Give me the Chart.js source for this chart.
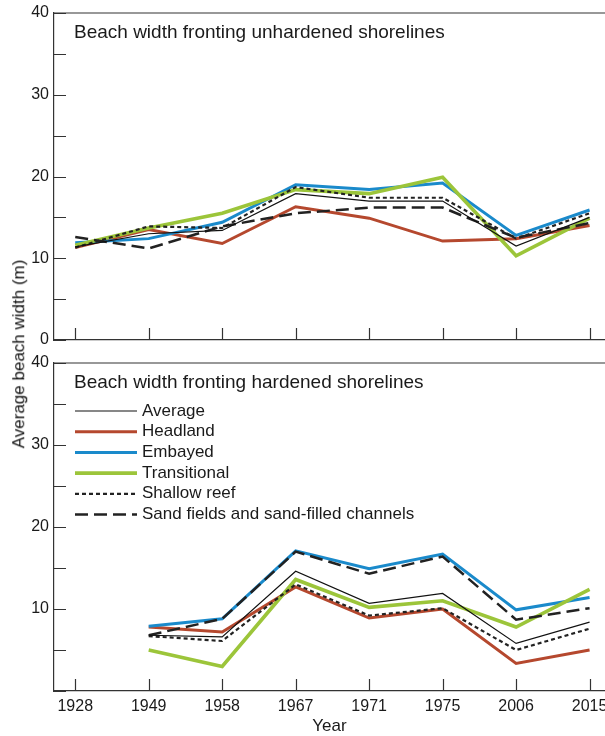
<!DOCTYPE html>
<html>
<head>
<meta charset="utf-8">
<script src="https://cdn.jsdelivr.net/npm/chart.js@4.4.1/dist/chart.umd.min.js"></script>
<style>
  html, body { margin: 0; padding: 0; background: #fff; overflow: hidden; }
  #wrap { position: relative; width: 605px; height: 736px; font-family: "Liberation Sans", Arial, sans-serif; }
  #top { position: absolute; left: 0; top: 0; width: 605px; height: 350px; }
  #bottom { position: absolute; left: 0; top: 350px; width: 605px; height: 386px; }
  #ylabel { position: absolute; left: 19px; top: 354px; transform: translate(-50%, -50%) rotate(-90deg);
            white-space: nowrap; font-size: 17px; line-height: 1.15; color: #111; }
</style>
</head>
<body>
<div id="wrap">
  <div id="top"><canvas id="unhardened"></canvas></div>
  <div id="bottom"><canvas id="hardened"></canvas></div>
  <div id="ylabel">Average beach width (m)</div>
</div>
<script>
const years = ['1928', '1949', '1958', '1967', '1971', '1975', '2006', '2015'];
const seriesNames = ['Average', 'Headland', 'Embayed', 'Transitional', 'Shallow reef', 'Sand fields and sand-filled channels'];
const yTickValues = [0, 10, 20, 30, 40];
const yMinorValues = [0, 5, 10, 15, 20, 25, 30, 35, 40];

// unhardened shorelines (top panel)
const avgU = [11.4, 13.0, 13.4, 17.9, 17.0, 17.0, 11.5, 15.0];
const headlandU = [11.3, 13.5, 11.8, 16.3, 14.9, 12.1, 12.4, 14.0];
const embayedU = [11.9, 12.4, 14.4, 19.0, 18.4, 19.2, 12.8, 15.9];
const transitionalU = [11.6, 13.7, 15.5, 18.4, 17.9, 19.9, 10.3, 14.9];
const reefU = [11.3, 13.9, 13.7, 18.7, 17.4, 17.4, 12.4, 15.5];
const sandU = [12.6, 11.2, 13.9, 15.5, 16.2, 16.2, 12.5, 14.3];

// hardened shorelines (bottom panel), no data for 1928
const avgH = [null, 6.8, 6.6, 14.6, 10.7, 11.9, 5.8, 8.4];
const headlandH = [null, 7.8, 7.2, 12.7, 8.9, 10.0, 3.35, 5.0];
const embayedH = [null, 7.9, 8.8, 17.1, 14.9, 16.7, 9.9, 11.4];
const transitionalH = [null, 5.0, 3.0, 13.6, 10.2, 11.0, 7.8, 12.4];
const reefH = [null, 6.7, 6.1, 13.0, 9.2, 10.1, 5.0, 7.6];
const sandH = [null, 6.8, 8.8, 17.0, 14.3, 16.4, 8.7, 10.1];

const axisColor = '#333';
const textColor = '#1a1a1a';
const FONT = '"Liberation Sans", Arial, sans-serif';
Chart.defaults.font.family = FONT;

// style per series, same order as seriesNames
const styles = [
  { color: '#111', width: 1.2, dash: [], order: 0 },
  { color: '#b5482e', width: 3, dash: [], order: 5 },
  { color: '#1a8acb', width: 3, dash: [], order: 4 },
  { color: '#9cc53a', width: 3.6, dash: [], order: 3 },
  { color: '#222', width: 2.2, dash: [4, 3], order: 1 },
  { color: '#222', width: 2.5, dash: [13, 6], order: 2 }
];

function makeSets(lists) {
  return lists.map((vals, k) => ({
    label: seriesNames[k],
    data: vals.map((v, i) => ({ x: i, y: v })),
    borderColor: styles[k].color,
    borderWidth: styles[k].width,
    borderDash: styles[k].dash,
    borderCapStyle: 'butt',
    borderJoinStyle: 'miter',
    order: styles[k].order,
    pointRadius: 0,
    fill: false,
    tension: 0
  }));
}

function decor(title, withLegend) {
  return {
    id: 'decor',
    beforeDatasetsDraw(chart) {
      const { ctx, chartArea: a, scales: { x, y } } = chart;
      ctx.save();
      ctx.strokeStyle = axisColor;
      ctx.lineWidth = 1.2;
      ctx.beginPath();
      ctx.moveTo(a.left, a.top);
      ctx.lineTo(chart.width, a.top);
      yMinorValues.forEach(v => {
        const py = Math.round(y.getPixelForValue(v)) + 0.5;
        ctx.moveTo(a.left, py);
        ctx.lineTo(a.left + 12, py);
      });
      years.forEach((_, i) => {
        const px = Math.round(x.getPixelForValue(i)) + 0.5;
        ctx.moveTo(px, a.bottom);
        ctx.lineTo(px, a.bottom - 12);
      });
      ctx.stroke();
      ctx.restore();
    },
    afterDraw(chart) {
      const { ctx, chartArea: a } = chart;
      ctx.save();
      ctx.fillStyle = textColor;
      ctx.textBaseline = 'middle';
      ctx.font = '19px ' + FONT;
      ctx.fillText(title, a.left + 20, a.top + 20);
      if (withLegend) {
        ctx.font = '17px ' + FONT;
        chart.data.datasets.forEach((ds, k) => {
          const ly = a.top + 48 + k * 20.7;
          ctx.strokeStyle = ds.borderColor;
          ctx.lineWidth = ds.borderWidth;
          ctx.setLineDash(ds.borderDash);
          ctx.beginPath();
          ctx.moveTo(a.left + 21, ly);
          ctx.lineTo(a.left + 83, ly);
          ctx.stroke();
          ctx.fillText(ds.label, a.left + 88, ly);
        });
      }
      ctx.restore();
    }
  };
}

function makeOptions(showX, hideZero) {
  return {
    responsive: true,
    maintainAspectRatio: false,
    animation: false,
    layout: { padding: { top: 13, left: 0, right: 0, bottom: 0 }, autoPadding: false },
    plugins: { legend: { display: false }, tooltip: { enabled: false } },
    scales: {
      x: {
        type: 'linear',
        min: -0.289,
        max: 7.21,
        afterBuildTicks: s => { s.ticks = years.map((_, i) => ({ value: i })); },
        afterFit: s => {
          s.height = showX ? 45 : 10;
          s.paddingLeft = 0;
          s.paddingRight = 0;
        },
        grid: { display: false, drawTicks: false },
        border: { display: true, color: axisColor, width: 1.2 },
        ticks: {
          display: showX, padding: 6, color: textColor, font: { size: 16 },
          maxRotation: 0, autoSkip: false,
          callback: v => years[v]
        },
        title: { display: showX, text: 'Year', color: textColor, font: { size: 17 }, padding: { top: 0, bottom: -1 } }
      },
      y: {
        min: 0,
        max: 40,
        afterBuildTicks: s => { s.ticks = yTickValues.map(v => ({ value: v })); },
        afterFit: s => {
          s.width = 54;
          s.paddingTop = 0;
          s.paddingBottom = 0;
        },
        grid: { display: false, drawTicks: false },
        border: { display: true, color: axisColor, width: 1.2 },
        ticks: {
          padding: 5, color: textColor, font: { size: 16 },
          callback: v => (hideZero && v === 0) ? '' : String(v)
        }
      }
    }
  };
}

new Chart(document.getElementById('unhardened'), {
  type: 'line',
  data: { datasets: makeSets([avgU, headlandU, embayedU, transitionalU, reefU, sandU]) },
  options: makeOptions(false, false),
  plugins: [decor('Beach width fronting unhardened shorelines', false)]
});

new Chart(document.getElementById('hardened'), {
  type: 'line',
  data: { datasets: makeSets([avgH, headlandH, embayedH, transitionalH, reefH, sandH]) },
  options: makeOptions(true, true),
  plugins: [decor('Beach width fronting hardened shorelines', true)]
});
</script>
</body>
</html>
